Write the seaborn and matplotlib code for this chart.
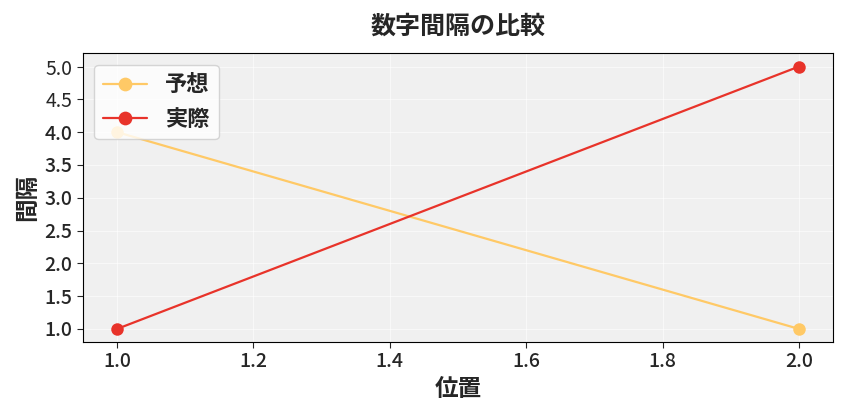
import matplotlib
matplotlib.use("Agg")
import matplotlib.pyplot as plt
import seaborn as sns
import pandas as pd

positions = [1, 2]
expected = [4, 1]
actual = [1, 5]
series_names = ["予想", "実際"]

sns.set_style("whitegrid")
plt.rcParams['font.family'] = ['Noto Sans CJK JP', 'DejaVu Sans']

df = pd.DataFrame({
    "位置": positions * 2,
    "間隔": expected + actual,
    "系列": [series_names[0]] * 2 + [series_names[1]] * 2,
})

fig, ax = plt.subplots(figsize=(8.48, 4.16), dpi=100)
ax.set_facecolor("#f0f0f0")
sns.lineplot(data=df, x="位置", y="間隔", hue="系列",
             palette=["#ffc966", "#e8332a"], marker="o", markersize=9,
             markeredgewidth=0, linewidth=1.6, ax=ax)
ax.grid(True, color="white", alpha=0.6, linewidth=0.8)
for s in ax.spines.values():
    s.set_color("black")
    s.set_linewidth(0.8)
ax.tick_params(labelsize=14, left=True, bottom=True, length=4)
for lab in ax.get_xticklabels() + ax.get_yticklabels():
    lab.set_fontweight("medium")
ax.set_title("数字間隔の比較", fontsize=18, fontweight="bold", pad=14)
ax.set_xlabel("位置", fontsize=17, fontweight="bold")
ax.set_ylabel("間隔", fontsize=17, fontweight="bold")
ax.set_yticks([1.0, 1.5, 2.0, 2.5, 3.0, 3.5, 4.0, 4.5, 5.0])
ax.yaxis.set_major_formatter(matplotlib.ticker.FormatStrFormatter("%.1f"))
ax.legend(title=None, prop={"size": 16, "weight": "bold"}, loc="upper left",
          markerscale=1.1)
fig.tight_layout()
fig.savefig("out.png", dpi=100)
